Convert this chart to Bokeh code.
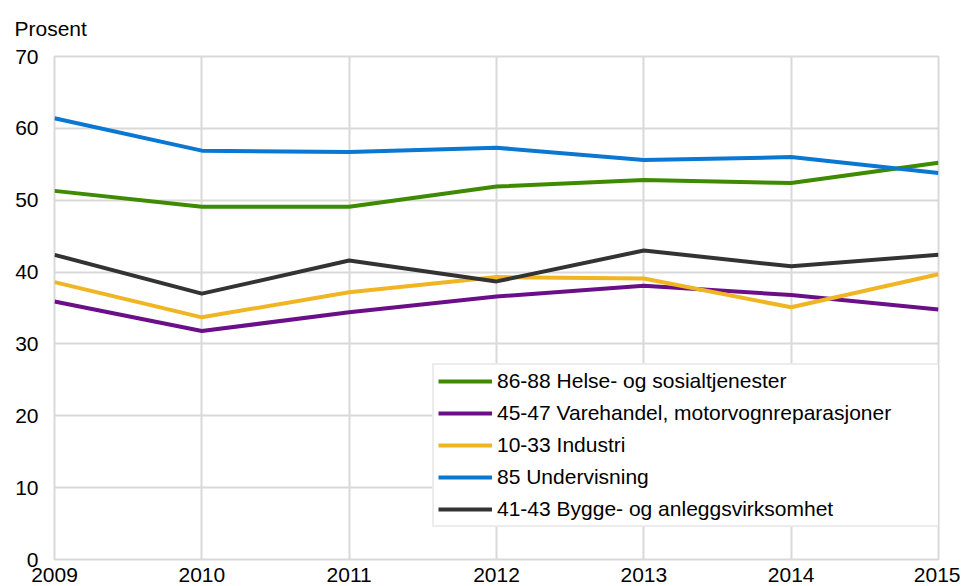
from bokeh.plotting import figure
from bokeh.models import Legend, LegendItem, FixedTicker, Range1d
from bokeh.embed import file_html
from bokeh.resources import INLINE

years = [2009, 2010, 2011, 2012, 2013, 2014, 2015]
helse = [51.3, 49.1, 49.1, 51.9, 52.8, 52.4, 55.2]
varehandel = [35.9, 31.8, 34.4, 36.6, 38.1, 36.8, 34.8]
industri = [38.6, 33.7, 37.2, 39.3, 39.1, 35.1, 39.7]
undervisning = [61.4, 56.9, 56.7, 57.3, 55.6, 56.0, 53.8]
bygg = [42.4, 37.0, 41.6, 38.7, 43.0, 40.8, 42.4]

series_names = [
    "86-88 Helse- og sosialtjenester",
    "45-47 Varehandel, motorvognreparasjoner",
    "10-33 Industri",
    "85 Undervisning",
    "41-43 Bygge- og anleggsvirksomhet",
]
series_values = [helse, varehandel, industri, undervisning, bygg]
colors = ["#3E8A00", "#6A0F88", "#EFB523", "#0A77D2", "#333333"]
y_ticks = [0, 10, 20, 30, 40, 50, 60, 70]
unit_label = "Prosent"

FONT = "Liberation Sans"
FS = "21px"

p = figure(width=960, height=584, output_backend="svg", toolbar_location=None,
           x_range=Range1d(2009, 2015), y_range=Range1d(0, 70),
           min_border_left=54, min_border_right=22, min_border_top=56,
           min_border_bottom=22)

renderers = []
for name, vals, col in zip(series_names, series_values, colors):
    r = p.line(years, vals, line_color=col, line_width=4)
    renderers.append((name, r))

p.title.text = unit_label
p.title.align = "left"
p.title.offset = -40
p.title.text_font = FONT
p.title.text_font_size = FS
p.title.text_font_style = "normal"
p.title.text_color = "#000000"
p.title.standoff = 30
p.title.vertical_align = "top"

p.outline_line_color = "#d9d9d9"
p.outline_line_width = 2
p.background_fill_color = "white"
p.border_fill_color = "white"

for ax in (p.xaxis[0], p.yaxis[0]):
    ax.axis_line_color = None
    ax.major_tick_line_color = None
    ax.minor_tick_line_color = None
    ax.major_label_text_font = FONT
    ax.major_label_text_font_size = FS
    ax.major_label_text_color = "#000000"

p.xaxis[0].ticker = FixedTicker(ticks=years)
p.xaxis[0].major_label_standoff = 2
p.yaxis[0].ticker = FixedTicker(ticks=y_ticks)
p.yaxis[0].major_label_standoff = 10

p.xgrid.ticker = FixedTicker(ticks=years)
p.ygrid.ticker = FixedTicker(ticks=y_ticks)
for g in (p.xgrid[0], p.ygrid[0]):
    g.grid_line_color = "#d9d9d9"
    g.grid_line_width = 2

legend = Legend(items=[LegendItem(label=n, renderers=[r]) for n, r in renderers],
                location=(378, 32), orientation="vertical")
legend.label_text_font = FONT
legend.label_text_font_size = FS
legend.label_text_color = "#000000"
legend.glyph_width = 54
legend.glyph_height = 20
legend.label_height = 20
legend.label_width = 449
legend.label_standoff = 5
legend.spacing = 8
legend.padding = 4
legend.margin = 0
legend.border_line_color = "#d9d9d9"
legend.border_line_width = 2
legend.background_fill_alpha = 1
legend.background_fill_color = "white"
p.add_layout(legend, "center")

open("out.html", "w").write(file_html(p, INLINE))
